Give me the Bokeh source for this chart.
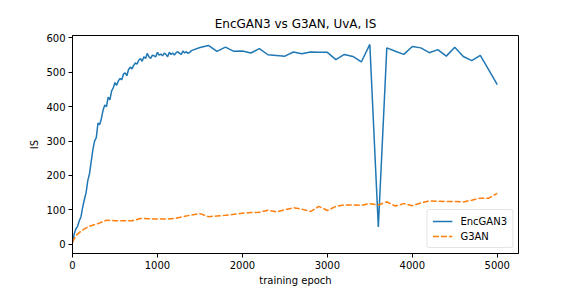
from bokeh.plotting import figure
from bokeh.models import Range1d, FixedTicker, Legend, LegendItem
from bokeh.embed import file_html
from bokeh.resources import INLINE

# ---- data ----
enc_dense_epochs = list(range(0, 1400, 20))
enc_dense_is = [5, 30, 45, 52, 68, 80, 108, 130, 150, 185,
                205, 240, 275, 300, 310, 352, 348, 365, 390, 405,
                400, 428, 420, 445, 455, 470, 462, 475, 482, 478,
                495, 498, 490, 508, 515, 510, 520, 527, 524, 535,
                540, 532, 545, 540, 555, 545, 540, 550, 548, 545,
                558, 550, 553, 548, 556, 552, 545, 558, 552, 556,
                550, 557, 560, 555, 552, 562, 556, 560, 555, 558]
enc_sparse_epochs = list(range(1400, 5001, 100))
enc_sparse_is = [563, 572, 578, 561, 573, 561, 562, 556, 569, 551,
                 549, 547, 559, 554, 559, 558, 558, 537, 552, 546,
                 530, 581, 50, 571, 561, 552, 575, 571, 557, 566,
                 547, 573, 546, 534, 549, 507, 464]

g3an_epochs = [0, 25, 50, 100, 150, 200] + list(range(300, 5001, 100))
g3an_is = [5, 18, 27, 38, 46, 52,
           60, 70, 68, 68, 68, 75, 74, 73, 73, 75,
           80, 85, 89, 80, 82, 84, 87, 90, 92, 93,
           99, 94, 100, 106, 102, 95, 110, 98, 110, 114,
           114, 113, 118, 114, 123, 111, 118, 112, 120, 126,
           125, 124, 124, 123, 128, 134, 134, 148]

enc_epochs = enc_dense_epochs + enc_sparse_epochs
enc_is = enc_dense_is + enc_sparse_is

x_ticks = [0, 1000, 2000, 3000, 4000, 5000]
y_ticks = [0, 100, 200, 300, 400, 500, 600]

FONT = "DejaVu Sans"

p = figure(width=576, height=288, output_backend="svg", toolbar_location=None,
           x_range=Range1d(0, 5250), y_range=Range1d(-27, 607),
           title="EncGAN3 vs G3AN, UvA, IS")
p.min_border_left = 72
p.min_border_right = 58
p.min_border_top = 35
p.min_border_bottom = 35

p.title.align = "center"
p.title.text_font = FONT
p.title.text_font_size = "12px"
p.title.text_font_style = "normal"
p.title.text_color = "black"

p.xgrid.visible = False
p.ygrid.visible = False
p.outline_line_color = "black"
p.outline_line_width = 1
p.background_fill_color = "white"
p.border_fill_color = "white"

for ax in (p.xaxis[0], p.yaxis[0]):
    ax.major_label_text_font = FONT
    ax.major_label_text_font_size = "10px"
    ax.major_label_text_color = "black"
    ax.axis_label_text_font = FONT
    ax.axis_label_text_font_size = "10px"
    ax.axis_label_text_font_style = "normal"
    ax.axis_label_text_color = "black"
    ax.minor_tick_line_color = None
    ax.major_tick_in = 0
    ax.major_tick_out = 4
    ax.major_tick_line_color = "black"
    ax.axis_line_color = "black"
    ax.major_label_standoff = 3
    ax.axis_label_standoff = 3

p.xaxis[0].ticker = FixedTicker(ticks=x_ticks)
p.yaxis[0].ticker = FixedTicker(ticks=y_ticks)
p.xaxis[0].axis_label = "training epoch"
p.yaxis[0].axis_label = "IS"

r1 = p.line(enc_epochs, enc_is, line_color="#1f77b4", line_width=1.5)
r2 = p.line(g3an_epochs, g3an_is, line_color="#ff7f0e", line_width=1.5,
            line_dash="6 2")

legend = Legend(items=[LegendItem(label="EncGAN3", renderers=[r1]),
                       LegendItem(label="G3AN", renderers=[r2])],
                location="bottom_right")
legend.label_text_font = FONT
legend.label_text_font_size = "10px"
legend.label_text_color = "black"
legend.glyph_width = 20
legend.glyph_height = 12
legend.label_height = 12
legend.spacing = 3
legend.padding = 5
legend.margin = 5
legend.label_standoff = 8
legend.border_line_color = "#cccccc"
legend.border_line_width = 1
legend.background_fill_alpha = 0.8
legend.border_radius = 3
p.add_layout(legend)

open("out.html", "w").write(file_html(p, INLINE))
